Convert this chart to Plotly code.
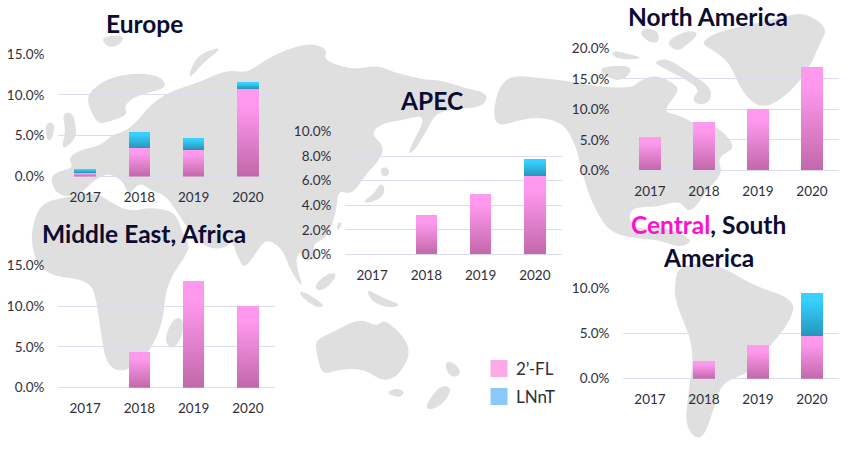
import plotly.graph_objects as go

W, H = 850, 450
YEARS = ["2017", "2018", "2019", "2020"]

europe_fl = [0.45, 3.5, 3.3, 10.75]
europe_lnnt = [0.5, 2.0, 1.45, 0.8]
apec_fl = [None, 3.2, 4.9, 6.4]
apec_lnnt = [None, None, None, 1.4]
north_america_fl = [5.5, 7.85, 10.0, 16.9]
mea_fl = [None, 4.35, 13.05, 10.05]
csa_fl = [None, 1.95, 3.75, 4.75]
csa_lnnt = [None, None, None, 4.75]

y_ticks_europe = [0, 5, 10, 15]
y_ticks_apec = [0, 2, 4, 6, 8, 10]
y_ticks_na = [0, 5, 10, 15, 20]
y_ticks_mea = [0, 5, 10, 15]
y_ticks_csa = [0, 5, 10]

INK = "#0b0b33"
TEXT = "#2f2f3a"
GRID = "#dcdcf0"
LAND = "#dfdfdf"
PINK = "#ff99ee"
BLUE = "#33ccff"
FONT = "Lato"

panels = [
    dict(fl=europe_fl, ln=europe_lnnt, ticks=y_ticks_europe, box=(58, 275, 54, 176.5)),
    dict(fl=apec_fl, ln=apec_lnnt, ticks=y_ticks_apec, box=(345, 562, 131.7, 254.3)),
    dict(fl=north_america_fl, ln=None, ticks=y_ticks_na, box=(623, 839, 48.3, 170.3)),
    dict(fl=mea_fl, ln=None, ticks=y_ticks_mea, box=(58, 275, 265.3, 387.7)),
    dict(fl=csa_fl, ln=csa_lnnt, ticks=y_ticks_csa, box=(623, 839, 288.3, 378.7)),
]

# Background world map outlines (decoration, page pixels)
LANDMASSES = [
    # Eurasia
    [(50,180),(56,172),(74,168),(68,158),(80,150),(100,146),(112,135),(128,130),(140,118),(150,105),(165,95),(175,90),
     (197,83),(215,75),(230,70),(247,73),(265,60),(290,48),(313,43),(328,50),(323,60),(353,70),(377,65),(393,72),
     (425,80),(440,80),(465,88),(487,93),(486,103),(475,108),(460,108),(440,112),(433,118),(427,130),(413,153),(407,153),
     (428,114),(403,120),(383,123),(370,133),(385,147),(378,162),(367,173),(352,195),(338,190),(337,207),(330,232),
     (322,240),(312,245),(318,258),(305,262),(300,250),(295,262),(303,287),(298,282),(288,265),(283,250),(270,240),
     (262,243),(245,270),(238,258),(232,240),(222,232),(232,245),(215,250),(200,243),(190,232),(176,210),(165,195),
     (150,190),(140,182),(128,196),(124,182),(108,172),(92,182),(78,196),(58,196)],
    # Scandinavia
    [(90,110),(87,97),(95,87),(110,78),(133,73),(157,75),(166,83),(163,89),(147,93),(132,98),(124,107),(128,115),(108,122),(98,124)],
    # Africa
    [(176,212),(182,232),(190,245),(185,257),(172,275),(165,295),(163,322),(150,352),(128,372),(107,368),(100,328),
     (97,302),(90,280),(43,275),(30,245),(35,215),(45,202),(62,198),(95,192),(110,202),(130,212),(150,207)],
    # Greenland
    [(700,43),(717,32),(740,27),(783,17),(805,12),(828,28),(820,43),(810,67),(790,93),(763,110),(742,93),(730,63),(713,50)],
    # Arctic islands
    [(653,62),(667,58),(690,73),(712,88),(710,103),(697,105),(692,98),(700,90),(687,80),(663,68)],
    [(638,30),(657,28),(660,43),(647,42)],
    [(665,42),(687,30),(700,33),(687,45),(677,52)],
    [(612,50),(633,55),(643,58),(627,60),(613,57)],
    [(600,67),(628,65),(632,72),(620,82),(603,75)],
    # North and Central America
    [(500,85),(513,75),(537,78),(563,80),(600,87),(633,88),(640,80),(657,75),(673,83),(680,90),(662,112),(680,115),
     (700,127),(713,123),(738,147),(717,157),(723,173),(707,190),(690,215),(680,200),(657,207),(633,207),(628,220),
     (640,230),(662,226),(695,240),(680,248),(660,240),(632,238),(610,232),(597,213),(587,190),(580,163),(575,143),
     (563,123),(540,117),(520,120),(497,127),(493,110)],
    # South America
    [(678,268),(700,262),(725,268),(752,285),(797,300),(788,325),(768,348),(752,372),(722,382),(715,405),(702,443),
     (685,428),(688,395),(695,348),(675,302),(675,282)],
    # Australia and Oceania
    [(315,340),(333,332),(360,318),(377,327),(385,318),(413,347),(400,375),(383,382),(363,368),(337,370),(322,375),(317,355)],
    [(385,393),(397,388),(405,392),(400,398)],
    [(298,292),(305,292),(325,305),(320,308),(308,303)],
    [(330,272),(338,275),(325,290),(315,290),(317,282)],
    [(365,288),(383,298),(402,305),(390,308),(373,303)],
    [(445,362),(453,362),(462,372),(455,378),(447,373)],
    [(442,385),(452,388),(445,402),(432,410),(425,408),(432,395)],
    # Madagascar, Japan, Taiwan
    [(175,318),(183,318),(183,335),(173,350),(165,343),(168,328)],
    [(380,183),(385,187),(383,197),(370,203),(362,202),(375,193)],
    [(380,168),(388,167),(390,175),(382,177)],
    [(337,222),(343,223),(337,232)],
    # Novaya Zemlya, Iceland, Britain, Ireland
    [(188,77),(197,55),(220,47),(217,52),(203,63),(193,75)],
    [(100,37),(125,35),(120,45),(108,48)],
    [(62,113),(73,112),(77,133),(72,143),(61,150),(66,130)],
    [(45,123),(55,122),(53,138),(47,142)],
]


def px(x):
    return x / W


def py(y):
    return 1 - y / H


def land_path(points):
    n = len(points)
    mids = [((points[i][0] + points[(i + 1) % n][0]) / 2, (points[i][1] + points[(i + 1) % n][1]) / 2) for i in range(n)]
    d = f"M{px(mids[-1][0]):.5f},{py(mids[-1][1]):.5f}"
    for i in range(n):
        d += f" Q{px(points[i][0]):.5f},{py(points[i][1]):.5f} {px(mids[i][0]):.5f},{py(mids[i][1]):.5f}"
    return d + " Z"


fig = go.Figure()
layout = dict(
    width=W, height=H, margin=dict(l=0, r=0, t=0, b=0, pad=0, autoexpand=False),
    paper_bgcolor="white", plot_bgcolor="rgba(0,0,0,0)",
    barmode="stack", bargap=0.6, showlegend=False,
    font=dict(family=FONT, color=TEXT, size=13.5),
)

for i, p in enumerate(panels, start=1):
    suffix = "" if i == 1 else str(i)
    x0, x1, ytop, ybot = p["box"]
    fig.add_trace(go.Bar(x=YEARS, y=p["fl"], name="2’-FL", marker=dict(color=PINK, line=dict(width=0)),
                         xaxis=f"x{suffix}", yaxis=f"y{suffix}"))
    if p["ln"]:
        fig.add_trace(go.Bar(x=YEARS, y=p["ln"], name="LNnT", marker=dict(color=BLUE, line=dict(width=0)),
                             xaxis=f"x{suffix}", yaxis=f"y{suffix}"))
    layout[f"xaxis{suffix}"] = dict(
        domain=[px(x0), px(x1)], anchor=f"y{suffix}", type="category", categoryorder="array", categoryarray=YEARS,
        range=[-0.5, 3.5], showgrid=False, showline=False, zeroline=False,
        ticks="outside", ticklen=8, tickcolor="rgba(0,0,0,0)", tickfont=dict(size=13.5, color=TEXT, family=FONT),
    )
    layout[f"yaxis{suffix}"] = dict(
        domain=[py(ybot), py(ytop)], anchor=f"x{suffix}", range=[0, max(p["ticks"])],
        tickmode="array", tickvals=p["ticks"], ticktext=[f"{t:.1f}%" for t in p["ticks"]],
        showgrid=True, gridcolor=GRID, gridwidth=1, zeroline=True, zerolinecolor=GRID, zerolinewidth=1, showline=False,
        ticks="outside", ticklen=10, tickcolor="rgba(0,0,0,0)", tickfont=dict(size=13.5, color=TEXT, family=FONT),
    )

shapes = [dict(type="path", xref="paper", yref="paper", path=land_path(m), fillcolor=LAND,
               line=dict(width=0), layer="below") for m in LANDMASSES]
shapes += [
    dict(type="rect", xref="paper", yref="paper", x0=px(490.5), x1=px(507.5), y0=py(377), y1=py(360),
         fillcolor="#ffaae8", line=dict(width=0)),
    dict(type="rect", xref="paper", yref="paper", x0=px(490.5), x1=px(507.5), y0=py(405), y1=py(388),
         fillcolor="#8cc8f8", line=dict(width=0)),
]
layout["shapes"] = shapes


def note(text, x, y, size, color=INK, bold=True, anchor="center"):
    return dict(xref="paper", yref="paper", x=px(x), y=py(y), xanchor=anchor, yanchor="middle", showarrow=False,
                align="center", text=f"<b>{text}</b>" if bold else text,
                font=dict(family=FONT, size=size, color=color))


layout["annotations"] = [
    note("Europe", 144, 23, 24.5),
    note("APEC", 432, 100, 24.5),
    note("North America", 708, 16, 24.5),
    note("Middle East, Africa", 144, 233, 24.5),
    note('<span style="color:#ff11cc">Central</span>, South', 708, 224, 24.5),
    note("America", 708, 257, 24.5),
    note("2’-FL", 514, 368, 17, TEXT, False, "left"),
    note("LNnT", 514, 396, 17, TEXT, False, "left"),
]
fig.update_layout(**layout)

post = """
document.documentElement.style.margin='0';document.body.style.margin='0';document.body.style.overflow='hidden';
var gd=document.getElementById('{plot_id}');
var svg=gd.querySelector('svg.main-svg');
var ns='http://www.w3.org/2000/svg';
var defs=document.createElementNS(ns,'defs');
function grad(id,a,b){var g=document.createElementNS(ns,'linearGradient');g.setAttribute('id',id);
 g.setAttribute('x1','0');g.setAttribute('y1','0');g.setAttribute('x2','0');g.setAttribute('y2','1');
 [[0,a],[0.18,a],[1,b]].forEach(function(s){var t=document.createElementNS(ns,'stop');
 t.setAttribute('offset',s[0]);t.setAttribute('stop-color',s[1]);g.appendChild(t);});defs.appendChild(g);}
grad('gradPink','#ff99ee','#c268aa');grad('gradBlue','#38d0ff','#2496bb');
svg.appendChild(defs);
gd.querySelectorAll('.barlayer .point path').forEach(function(p){
 var f=p.style.fill.replace(/\\s/g,'');
 if(f==='rgb(255,153,238)'){p.style.fill='url(#gradPink)';}
 else if(f==='rgb(51,204,255)'){p.style.fill='url(#gradBlue)';}
});
"""
fig.write_html("out.html", post_script=post, config={"displayModeBar": False, "responsive": False})
